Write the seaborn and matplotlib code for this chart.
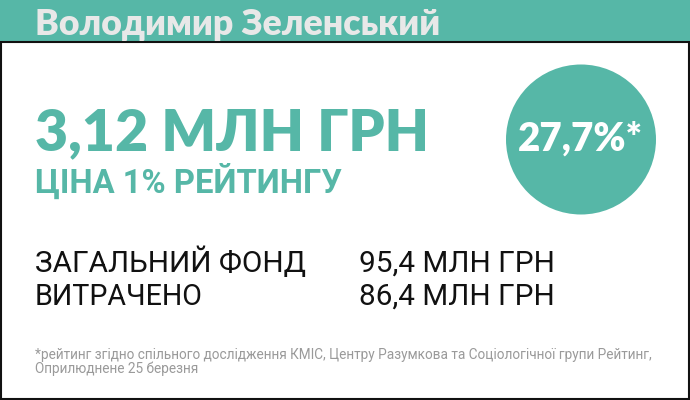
import matplotlib
matplotlib.use("Agg")
import matplotlib.pyplot as plt
import matplotlib.patches as mpatches
import seaborn as sns
import pandas as pd

# ---- data ----
candidate = ["Володимир Зеленський"]
price_per_pct = ["3,12"]
price_label = ["ЦІНА 1% РЕЙТИНГУ"]
rating = ["27,7"]
row_labels = ["ЗАГАЛЬНИЙ ФОНД", "ВИТРАЧЕНО"]
row_values = ["95,4", "86,4"]
unit = "МЛН ГРН"
footnote = ["*рейтинг згідно спільного дослідження КМІС, Центру Разумкова та Соціологічної групи Рейтинг,",
            "Оприлюднене 25 березня"]

TEAL = "#56b7a7"
sns.set_theme(style="white")
plt.rcParams['font.family'] = ['DejaVu Sans']

fig = plt.figure(figsize=(6.9, 4.0), dpi=100)
fig.patch.set_facecolor("white")
ax = fig.add_axes([0, 0, 1, 1])

# top band
ax.add_patch(mpatches.Rectangle((0, 0), 690, 42, facecolor=TEAL, edgecolor="none", zorder=1))
# frame of white area
ax.add_patch(mpatches.Rectangle((1, 42), 688, 357, facecolor="none", edgecolor="#111111",
                                linewidth=1.5, zorder=2))

# rating circle via seaborn scatter
circ = pd.DataFrame({"x": [581.0], "y": [139.5], "rating": rating})
sns.scatterplot(data=circ, x="x", y="y", s=(150 * 0.72) ** 2, color=TEAL,
                edgecolor="none", linewidth=0, ax=ax, legend=False, zorder=3)
ax.set_xlim(0, 690)
ax.set_ylim(400, 0)
ax.axis("off")

renderer = fig.canvas.get_renderer()
HEAD = ["Lato", "Open Sans", "DejaVu Sans"]
NARROW = ["Liberation Sans Narrow", "Roboto", "DejaVu Sans"]

def fit_text(x, y, s, width, color, family, weight="normal", zorder=5, ha="left"):
    t = ax.text(x, y, s, fontsize=20, color=color, family=family, fontweight=weight,
                va="baseline", ha=ha, zorder=zorder)
    w = t.get_window_extent(renderer=renderer).width
    t.set_fontsize(20 * width / w)
    return t

fit_text(35, 35, candidate[0], 405, "#e8e8e8", HEAD, "heavy")
fit_text(35, 150, f"{price_per_pct[0]} {unit}", 394, TEAL, HEAD, "heavy")
fit_text(35, 193, price_label[0], 306, TEAL, NARROW, "bold")
fit_text(518, 151, f"{rating[0]}%*", 125, "white", HEAD, "heavy")

row_y = [272, 305]
row_w = [271, 168]
for lab, val, yy, ww in zip(row_labels, row_values, row_y, row_w):
    fit_text(35, yy, lab, ww, "#111111", ["Roboto", "DejaVu Sans"], "normal")
    fit_text(359, yy, f"{val} {unit}", 195, "#111111", ["Roboto", "DejaVu Sans"], "normal")

t1 = fit_text(35, 359, footnote[0], 619, "#9a9a9a", NARROW, "normal")
ax.text(35, 373, footnote[1], color="#9a9a9a", family=NARROW, fontsize=t1.get_fontsize(),
        va="baseline", ha="left", zorder=5)

fig.savefig("out.png", dpi=100, facecolor="white")
